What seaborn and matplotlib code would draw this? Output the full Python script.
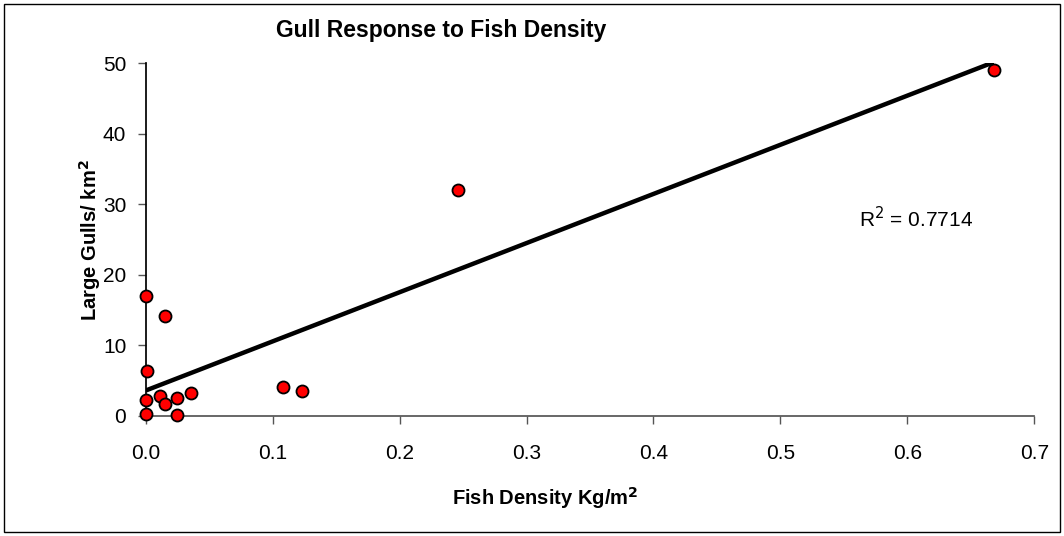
import numpy as np
import pandas as pd
import matplotlib
matplotlib.use("Agg")
import matplotlib.pyplot as plt
import seaborn as sns
from matplotlib.patches import Rectangle

# values
fish_density = [0.0, 0.0155, 0.0013, 0.0, 0.0, 0.011, 0.0155, 0.025, 0.025, 0.036,
                0.108, 0.123, 0.246, 0.668]
large_gulls = [17.0, 14.2, 6.3, 2.2, 0.3, 2.85, 1.7, 2.6, 0.1, 3.2,
               4.1, 3.6, 32.1, 49.0]
r2_label = "R$^2$ = 0.7714"
x_ticks = [0.0, 0.1, 0.2, 0.3, 0.4, 0.5, 0.6, 0.7]
y_ticks = [0, 10, 20, 30, 40, 50]

df = pd.DataFrame({"fish": fish_density, "gulls": large_gulls})

sns.set_theme(style="white")
plt.rcParams["font.family"] = ["Liberation Sans", "DejaVu Sans"]
plt.rcParams["text.color"] = "black"
plt.rcParams["xtick.color"] = "black"
plt.rcParams["ytick.color"] = "black"

fig = plt.figure(figsize=(10.64, 5.36), dpi=100)
ax = fig.add_axes([0.137, 0.224, 0.835, 0.658])

sns.regplot(data=df, x="fish", y="gulls", ax=ax, scatter=False, ci=None,
            line_kws={"color": "black", "lw": 3.2, "solid_capstyle": "butt"})
sns.scatterplot(data=df, x="fish", y="gulls", ax=ax, color="red", edgecolor="black",
                linewidth=1.3, s=75, zorder=5, clip_on=False)

ax.set_xlim(0, 0.7)
ax.set_ylim(0, 50)
ax.set_xticks(x_ticks)
ax.set_xticklabels([f"{t:.1f}" for t in x_ticks])
ax.set_yticks(y_ticks)
ax.tick_params(axis="both", direction="out", length=6, width=1, color="#555555",
               labelsize=15, labelcolor="black", bottom=True, left=True)
ax.tick_params(axis="x", pad=14)
ax.tick_params(axis="y", pad=8)
for side in ["top", "right"]:
    ax.spines[side].set_visible(False)
ax.spines["left"].set_color("black")
ax.spines["bottom"].set_color("#555555")
ax.set_xlabel("")
ax.set_ylabel("")

ax.text(0.562, 28, r2_label, fontsize=15, ha="left", va="center")

fig.text(0.415, 0.944, "Gull Response to Fish Density", fontsize=16.5, fontweight="bold",
         ha="center", va="center")
fig.text(0.512, 0.071, "Fish Density Kg/m$^\\mathbf{2}$", fontsize=14.5, fontweight="bold",
         ha="center", va="center")
fig.text(0.085, 0.552, "Large Gulls/ km$^\\mathbf{2}$", fontsize=14.5, fontweight="bold",
         ha="center", va="center", rotation=90)

fig.patches.append(Rectangle((0.004, 0.007), 0.992, 0.986, transform=fig.transFigure,
                             fill=False, edgecolor="black", lw=1))

fig.savefig("out.png", dpi=100)
